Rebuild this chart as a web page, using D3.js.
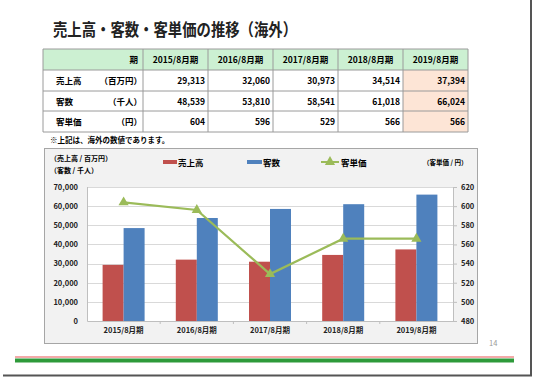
<!DOCTYPE html>
<html><head><meta charset="utf-8">
<script src="https://cdn.jsdelivr.net/npm/d3@7"></script>
<style>body{margin:0;background:#fff}svg{display:block}text{font-family:"Noto Sans CJK JP","Noto Sans",sans-serif}</style>
</head><body>
<script>
const categories = ['2015/8月期','2016/8月期','2017/8月期','2018/8月期','2019/8月期'];
const sales = [29313, 32060, 30973, 34514, 37394];
const customers = [48539, 53810, 58541, 61018, 66024];
const unitPrice = [604, 596, 529, 566, 566];
const leftTicks = [0,10000,20000,30000,40000,50000,60000,70000];
const rightTicks = [480,500,520,540,560,580,600,620];
const rowLabels = ['売上高','客数','客単価'];
const rowUnits = ['（百万円）','（千人）','（円）'];
const seriesNames = ['売上高','客数','客単価'];

const W=534,H=379;
const svg=d3.select('body').append('svg').attr('width',W).attr('height',H);
svg.append('rect').attr('x',0).attr('y',0).attr('width',W).attr('height',H).attr('fill','#fff');
svg.append('line').attr('x1',531).attr('x2',531).attr('y1',0).attr('y2',376).attr('stroke','#555').attr('stroke-width',2);
svg.append('line').attr('x1',3).attr('x2',532).attr('y1',375.5).attr('y2',375.5).attr('stroke','#555').attr('stroke-width',2);

svg.append('text').attr('x',53).attr('y',36).attr('font-size',17).attr('font-weight','bold').attr('fill','#222')
  .attr('textLength',244).attr('lengthAdjust','spacingAndGlyphs').text('売上高・客数・客単価の推移（海外）');

const fmt=d3.format(',');
const colX=[43,143,208,273,338,403,468];
const rowY=[49,70,91,111,132];
const tbl=svg.append('g');
tbl.append('rect').attr('x',colX[0]).attr('y',rowY[0]).attr('width',colX[6]-colX[0]).attr('height',rowY[1]-rowY[0]).attr('fill','#ccf0d2');
tbl.append('rect').attr('x',colX[5]).attr('y',rowY[1]).attr('width',colX[6]-colX[5]).attr('height',rowY[4]-rowY[1]).attr('fill','#fde5d6');
rowY.forEach(y=>tbl.append('line').attr('x1',colX[0]).attr('x2',colX[6]).attr('y1',y).attr('y2',y).attr('stroke','#9a9a9a').attr('stroke-width',1));
colX.forEach(x=>tbl.append('line').attr('x1',x).attr('x2',x).attr('y1',rowY[0]).attr('y2',rowY[4]).attr('stroke','#9a9a9a').attr('stroke-width',1));
const fs=8.5;
tbl.append('text').attr('x',colX[1]-5).attr('y',63).attr('text-anchor','end').attr('font-size',fs).attr('font-weight','bold').text('期');
categories.forEach((c,i)=>tbl.append('text').attr('x',(colX[i+1]+colX[i+2])/2).attr('y',63).attr('text-anchor','middle').attr('font-size',fs).attr('font-weight','bold').text(c));
const tableData=[sales,customers,unitPrice];
tableData.forEach((arr,r)=>{
  const y=(rowY[r+1]+rowY[r+2])/2+3.5;
  tbl.append('text').attr('x',56).attr('y',y).attr('font-size',fs).attr('font-weight','bold').text(rowLabels[r]);
  tbl.append('text').attr('x',colX[1]-1).attr('y',y).attr('text-anchor','end').attr('font-size',fs).attr('font-weight','bold').text(rowUnits[r]);
  arr.forEach((v,i)=>tbl.append('text').attr('x',colX[i+2]-3).attr('y',y).attr('text-anchor','end').attr('font-size',fs).attr('font-weight','bold').text(fmt(v)));
});
svg.append('text').attr('x',50).attr('y',143).attr('font-size',7.5).attr('font-weight','bold').text('※上記は、海外の数値であります。');

svg.append('rect').attr('x',44.5).attr('y',148.5).attr('width',433).attr('height',195).attr('fill','#f2f2f2').attr('stroke','#a6a6a6');
const pl=87,pr=453,pt=187,pb=321;
svg.append('rect').attr('x',pl).attr('y',pt).attr('width',pr-pl).attr('height',pb-pt).attr('fill','#fff');
const x=d3.scaleBand().domain(categories).range([pl,pr]);
const yL=d3.scaleLinear().domain([0,70000]).range([pb,pt]);
const yR=d3.scaleLinear().domain([480,620]).range([pb,pt]);
svg.append('g').selectAll('line').data(leftTicks).join('line')
  .attr('x1',pl).attr('x2',pr).attr('y1',d=>Math.round(yL(d))+0.5).attr('y2',d=>Math.round(yL(d))+0.5).attr('stroke','#d9d9d9');
const bw=21;
svg.append('g').selectAll('rect').data(sales).join('rect')
  .attr('x',(d,i)=>x(categories[i])+x.bandwidth()/2-bw).attr('width',bw)
  .attr('y',d=>yL(d)).attr('height',d=>yL(0)-yL(d)).attr('fill','#c0504d');
svg.append('g').selectAll('rect').data(customers).join('rect')
  .attr('x',(d,i)=>x(categories[i])+x.bandwidth()/2).attr('width',bw)
  .attr('y',d=>yL(d)).attr('height',d=>yL(0)-yL(d)).attr('fill','#4f81bd');
const axL=svg.append('g').attr('transform',`translate(${pl},0)`).call(d3.axisLeft(yL).tickValues(leftTicks).tickFormat(fmt).tickSize(0).tickPadding(9));
const axR=svg.append('g').attr('transform',`translate(${pr},0)`).call(d3.axisRight(yR).tickValues(rightTicks).tickSize(4).tickPadding(4));
const axB=svg.append('g').attr('transform',`translate(0,${pb})`).call(d3.axisBottom(x).tickSize(0).tickPadding(7));
[axL,axR,axB].forEach(a=>{a.selectAll('text').attr('font-size',7.5).attr('font-weight','bold').attr('fill','#222').style('font-family','"Noto Sans CJK JP",sans-serif');a.select('.domain').attr('stroke','#bfbfbf');a.selectAll('line').attr('stroke','#bfbfbf');});
axL.select('.domain').remove();
svg.append('line').attr('x1',pl+0.5).attr('x2',pl+0.5).attr('y1',pt).attr('y2',pb).attr('stroke','#bfbfbf');
svg.append('g').selectAll('line').data(categories.slice(1)).join('line')
  .attr('x1',d=>x(d)).attr('x2',d=>x(d)).attr('y1',pb).attr('y2',pb+3).attr('stroke','#bfbfbf');
const line=d3.line().x((d,i)=>x(categories[i])+x.bandwidth()/2).y(d=>yR(d));
svg.append('path').datum(unitPrice).attr('d',line).attr('fill','none').attr('stroke','#9bbb59').attr('stroke-width',2.2);
const tri=d3.symbol().type(d3.symbolTriangle).size(45);
svg.append('g').selectAll('path').data(unitPrice).join('path')
  .attr('transform',(d,i)=>`translate(${x(categories[i])+x.bandwidth()/2},${yR(d)})`).attr('d',tri).attr('fill','#9bbb59');
svg.append('text').attr('x',50).attr('y',161).attr('font-size',7).attr('font-weight','bold').text('（売上高 / 百万円）');
svg.append('text').attr('x',50).attr('y',173).attr('font-size',7).attr('font-weight','bold').text('（客数 / 千人）');
svg.append('text').attr('x',423).attr('y',165).attr('font-size',6.5).attr('font-weight','bold').text('（客単価 / 円）');
const lg=svg.append('g').attr('font-size',8.5).attr('font-weight','bold');
lg.append('rect').attr('x',163).attr('y',160).attr('width',14).attr('height',4).attr('fill','#c0504d');
lg.append('text').attr('x',178).attr('y',165.5).text(seriesNames[0]);
lg.append('rect').attr('x',247).attr('y',160).attr('width',15).attr('height',4).attr('fill','#4f81bd');
lg.append('text').attr('x',263).attr('y',165.5).text(seriesNames[1]);
lg.append('line').attr('x1',321).attr('x2',339).attr('y1',162).attr('y2',162).attr('stroke','#9bbb59').attr('stroke-width',2);
lg.append('path').attr('transform','translate(330,162)').attr('d',tri).attr('fill','#9bbb59');
lg.append('text').attr('x',341).attr('y',165.5).text(seriesNames[2]);

svg.append('text').attr('x',489).attr('y',346).attr('font-size',7.5).attr('fill','#999').text('14');
svg.append('line').attr('x1',15).attr('x2',514).attr('y1',357).attr('y2',357).attr('stroke','#f08c8c').attr('stroke-width',1.5);
svg.append('line').attr('x1',15).attr('x2',514).attr('y1',360.5).attr('y2',360.5).attr('stroke','#2e9a3a').attr('stroke-width',4);
</script>
</body></html>
